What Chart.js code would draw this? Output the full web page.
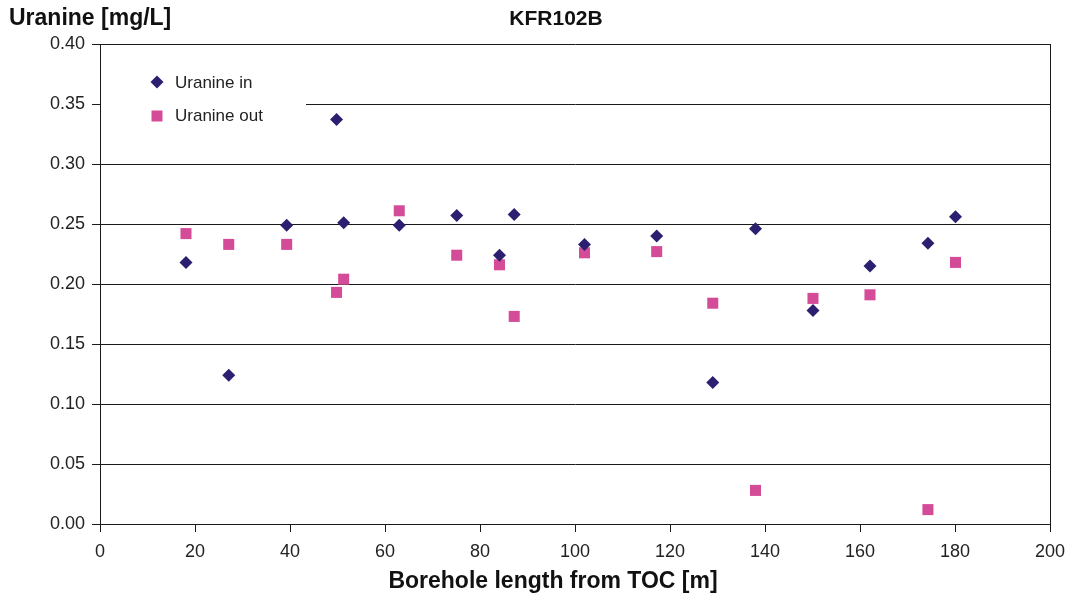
<!DOCTYPE html>
<html>
<head>
<meta charset="utf-8">
<script src="https://cdn.jsdelivr.net/npm/chart.js@4.4.0/dist/chart.umd.min.js"></script>
<style>
  html, body { margin: 0; padding: 0; background: #fff; }
  #wrap { width: 1065px; height: 601px; }
</style>
</head>
<body>
<div id="wrap"><canvas id="chart" width="1065" height="601"></canvas></div>
<script>
// borehole positions [m] shared by both series
const boreholeLength = [18.1, 27.1, 39.3, 49.8, 51.3, 63.0, 75.1, 84.1, 87.2, 102.0, 117.2, 129.0, 138.0, 150.1, 162.1, 174.3, 180.1];
const uranineIn  = [0.218, 0.124, 0.249, 0.337, 0.251, 0.249, 0.257, 0.224, 0.258, 0.233, 0.240, 0.118, 0.246, 0.178, 0.215, 0.234, 0.256];
const uranineOut = [0.242, 0.233, 0.233, 0.193, 0.204, 0.261, 0.224, 0.216, 0.173, 0.226, 0.227, 0.184, 0.028, 0.188, 0.191, 0.012, 0.218];

const seriesLabels = ['Uranine in', 'Uranine out'];
const chartTitle = 'KFR102B';
const yAxisTitle = 'Uranine [mg/L]';
const xAxisTitle = 'Borehole length from TOC [m]';

const FONT = "'Liberation Sans', Arial, sans-serif";
const inColor = '#2b2070';
const outColor = '#d44c98';
const lineColor = '#1a1a1a';

const toPoints = ys => ys.map((y, i) => ({ x: boreholeLength[i], y: y }));

// legend inside the plot, white box hides the grid line behind it
const insideLegend = {
    id: 'insideLegend',
    beforeDatasetsDraw(chart) {
        const ctx = chart.ctx;
        const a = chart.chartArea;
        ctx.save();
        ctx.fillStyle = '#fff';
        ctx.fillRect(a.left + 1, 60, 205, 76);
        ctx.font = '17px ' + FONT;
        ctx.textBaseline = 'middle';
        ctx.textAlign = 'left';

        // diamond
        ctx.fillStyle = inColor;
        ctx.beginPath();
        ctx.moveTo(157, 82 - 6.5);
        ctx.lineTo(157 + 6.5, 82);
        ctx.lineTo(157, 82 + 6.5);
        ctx.lineTo(157 - 6.5, 82);
        ctx.closePath();
        ctx.fill();
        ctx.fillStyle = '#222';
        ctx.fillText(chart.data.datasets[0].label, 175, 83);

        // square
        ctx.fillStyle = outColor;
        ctx.fillRect(157 - 5.5, 116 - 5.5, 11, 11);
        ctx.fillStyle = '#222';
        ctx.fillText(chart.data.datasets[1].label, 175, 116);
        ctx.restore();
    }
};

// right frame line and the titles
const frameAndTitles = {
    id: 'frameAndTitles',
    afterDraw(chart) {
        const ctx = chart.ctx;
        const a = chart.chartArea;
        ctx.save();
        ctx.strokeStyle = lineColor;
        ctx.lineWidth = 1;
        ctx.beginPath();
        ctx.moveTo(Math.round(a.right) + 0.5, a.top);
        ctx.lineTo(Math.round(a.right) + 0.5, a.bottom);
        ctx.stroke();

        ctx.fillStyle = '#111';
        ctx.textBaseline = 'middle';
        ctx.font = 'bold 23px ' + FONT;
        ctx.textAlign = 'left';
        ctx.fillText(yAxisTitle, 9, 19);
        ctx.textAlign = 'center';
        ctx.fillText(xAxisTitle, 553, 582);
        ctx.font = 'bold 21px ' + FONT;
        ctx.fillText(chartTitle, 556, 19);
        ctx.restore();
    }
};

new Chart(document.getElementById('chart').getContext('2d'), {
    type: 'scatter',
    data: {
        datasets: [
            {
                label: seriesLabels[0],
                data: toPoints(uranineIn),
                pointStyle: 'rectRot',
                pointRadius: 6.5,
                pointBorderWidth: 0,
                backgroundColor: inColor,
                borderColor: inColor
            },
            {
                label: seriesLabels[1],
                data: toPoints(uranineOut),
                pointStyle: 'rect',
                pointRadius: 7.8,
                pointBorderWidth: 0,
                backgroundColor: outColor,
                borderColor: outColor
            }
        ]
    },
    options: {
        responsive: false,
        animation: false,
        devicePixelRatio: 1,
        layout: { padding: { left: 0, right: 15, top: 44, bottom: 0 } },
        plugins: {
            legend: { display: false },
            title: { display: false },
            tooltip: { enabled: false }
        },
        scales: {
            x: {
                type: 'linear',
                min: 0,
                max: 200,
                ticks: {
                    stepSize: 20,
                    color: '#222',
                    font: { family: FONT, size: 18 },
                    padding: 9,
                    maxRotation: 0
                },
                grid: { drawOnChartArea: false, tickLength: 8, color: lineColor },
                border: { color: lineColor },
                afterFit(scale) {
                    scale.height = 77;
                    scale.paddingRight = 0;
                    scale.paddingLeft = 0;
                }
            },
            y: {
                min: 0,
                max: 0.4,
                ticks: {
                    stepSize: 0.05,
                    color: '#222',
                    font: { family: FONT, size: 18 },
                    padding: 7,
                    callback: v => v.toFixed(2)
                },
                grid: { color: lineColor, tickLength: 8 },
                border: { color: lineColor },
                afterFit(scale) { scale.width = 100; }
            }
        }
    },
    plugins: [insideLegend, frameAndTitles]
});
</script>
</body>
</html>
